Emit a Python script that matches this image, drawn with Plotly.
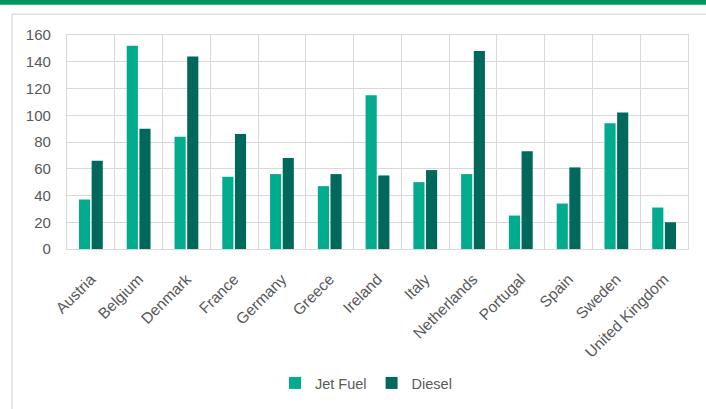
import plotly.graph_objects as go

countries = ["Austria", "Belgium", "Denmark", "France", "Germany", "Greece", "Ireland",
             "Italy", "Netherlands", "Portugal", "Spain", "Sweden", "United Kingdom"]
jet_fuel = [37, 152, 84, 54, 56, 47, 115, 50, 56, 25, 34, 94, 31]
diesel = [66, 90, 144, 86, 68, 56, 55, 59, 148, 73, 61, 102, 20]
y_ticks = [0, 20, 40, 60, 80, 100, 120, 140, 160]

JET = "#00AB8E"
DIESEL = "#00695C"
GRID = "#D9D9D9"
TXT = "#595959"
FONT = "Liberation Sans, Arial, sans-serif"

W, H = 706, 409
L, R, T, B = 67, 18, 35, 159
pw, ph = W - L - R, H - T - B

def px_x(x):
    return (x - L) / pw

def px_y(y):
    return (H - B - y) / ph

fig = go.Figure()
fig.add_trace(go.Bar(x=countries, y=jet_fuel, name="Jet Fuel", marker_color=JET,
                     marker_line_width=0))
fig.add_trace(go.Bar(x=countries, y=diesel, name="Diesel", marker_color=DIESEL,
                     marker_line_width=0))

shapes = [
    # green top band
    dict(type="rect", xref="paper", yref="paper", x0=px_x(-2), x1=px_x(W + 2), y0=px_y(4.5), y1=px_y(-2),
         fillcolor="#00965E", line_width=0, layer="above"),
    # outer frame top line
    dict(type="line", xref="paper", yref="paper", x0=px_x(12), x1=px_x(W + 5), y0=px_y(14), y1=px_y(14),
         line=dict(color=GRID, width=1.3)),
    # outer frame left line
    dict(type="line", xref="paper", yref="paper", x0=px_x(12), x1=px_x(12), y0=px_y(14), y1=px_y(H + 5),
         line=dict(color=GRID, width=1.3)),
]

fig.update_layout(
    width=W, height=H,
    margin=dict(l=L, r=R, t=T, b=B),
    paper_bgcolor="white", plot_bgcolor="white",
    barmode="group", bargap=0.47, bargroupgap=0.12,
    font=dict(family=FONT, size=14.5, color=TXT),
    shapes=shapes,
    showlegend=True,
    legend=dict(orientation="h", x=px_x(366), xanchor="center", y=px_y(383), yanchor="middle",
                font=dict(family=FONT, size=14.5, color=TXT), bgcolor="rgba(0,0,0,0)",
                itemclick=False, itemwidth=30, tracegroupgap=0),
    xaxis=dict(type="category", tickson="boundaries", showgrid=True, gridcolor=GRID, gridwidth=1.3,
               showline=True, linecolor=GRID, linewidth=1.3, mirror=True, ticks="",
               tickangle=-45, ticklabelstandoff=14, tickfont=dict(family=FONT, size=15.5, color=TXT),
               fixedrange=True),
    yaxis=dict(range=[0, 160], tickvals=y_ticks, showgrid=True, gridcolor=GRID, gridwidth=1.3,
               showline=True, linecolor=GRID, linewidth=1.3, mirror=True, ticks="",
               zeroline=False, ticklabelstandoff=12,
               tickfont=dict(family=FONT, size=15, color=TXT), fixedrange=True),
)

fig.write_html("out.html")
